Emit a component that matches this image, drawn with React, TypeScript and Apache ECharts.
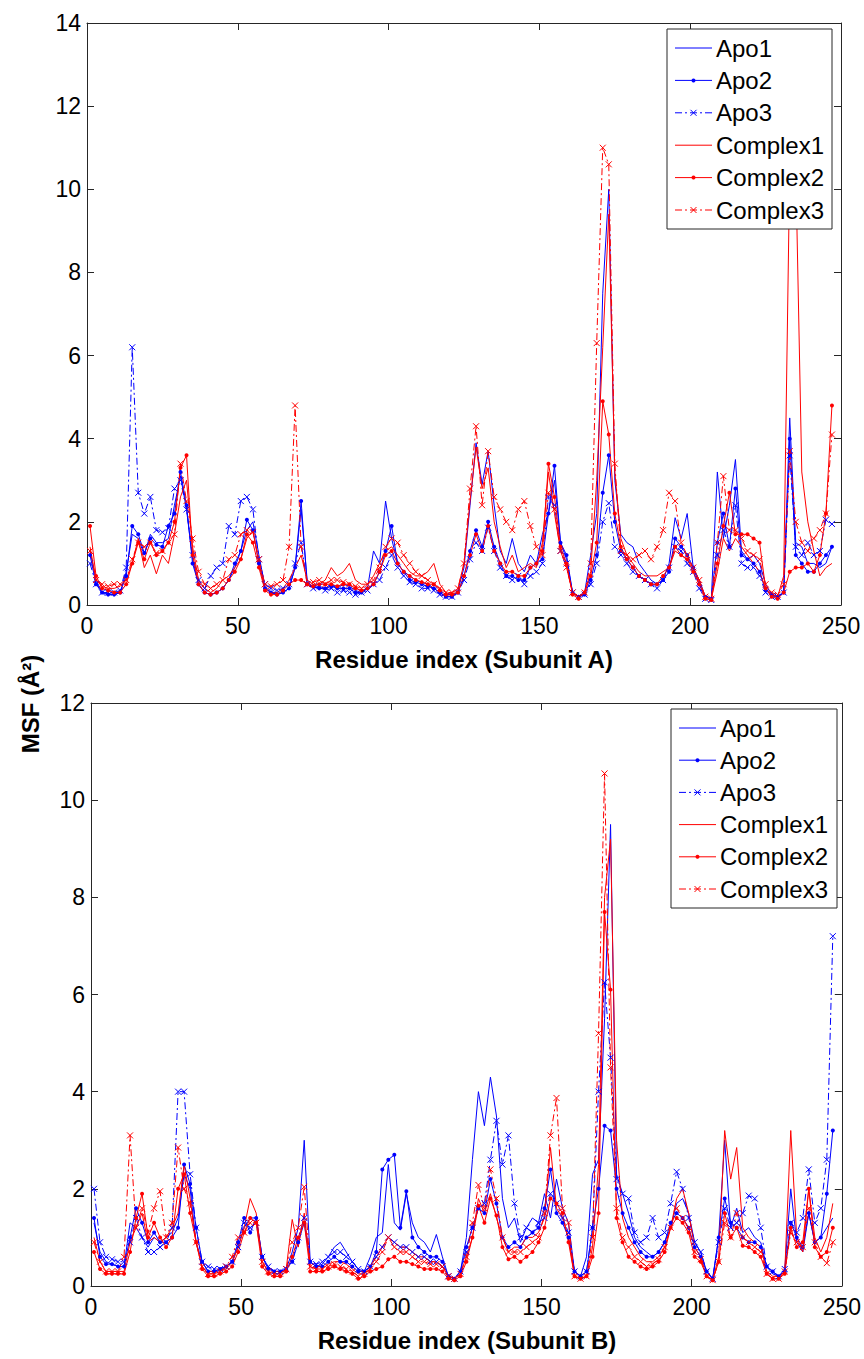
import React, { useEffect, useRef } from 'react';
import * as echarts from 'echarts';

// Residue index sampled every second residue (1, 3, ..., 247)
const RESIDUES: number[] = Array.from({ length: 124 }, (_, i) => 1 + 2 * i);

// ---- Subunit A : mean square fluctuation (Å²) ----
const apo1A = [
  1.3, 0.6, 0.3, 0.28, 0.25, 0.3, 0.8, 1.7, 1.6, 1.2,
  1.7, 1.5, 1.5, 1.6, 2.4, 3.1, 2.3, 1.1, 0.5, 0.3,
  0.25, 0.3, 0.4, 0.6, 0.9, 1.3, 1.8, 2.0, 1.2, 0.45,
  0.3, 0.25, 0.3, 0.4, 0.9, 2.3, 0.6, 0.4, 0.45, 0.4,
  0.5, 0.4, 0.5, 0.45, 0.35, 0.3, 0.4, 1.3, 1.0, 2.5,
  1.6, 1.0, 0.8, 0.7, 0.6, 0.55, 0.5, 0.4, 0.3, 0.2,
  0.2, 0.35, 0.9, 2.4, 3.9, 2.9, 3.7, 2.4, 1.3, 1.0,
  1.6, 1.0, 0.8, 1.2, 1.0, 1.7, 2.2, 3.0, 1.5, 1.1,
  0.3, 0.2, 0.3, 1.2, 2.2, 7.5, 10.0, 3.0, 1.7, 1.5,
  1.4, 1.0, 0.8, 0.6, 0.5, 0.6, 1.0, 2.1, 1.6, 2.2,
  0.9, 0.6, 0.2, 0.15, 3.2, 1.6, 2.4, 3.5, 1.3, 1.1,
  1.2, 1.0, 0.5, 0.25, 0.2, 0.3, 4.5, 1.5, 1.4, 1.0,
  1.0, 0.9, 1.0, 1.4,
];
const apo2A = [
  1.2, 0.5, 0.3, 0.25, 0.25, 0.3, 0.7, 1.9, 1.7, 1.25,
  1.6, 1.45, 1.4, 1.9, 2.2, 3.2, 2.4, 1.0, 0.5, 0.3,
  0.25, 0.3, 0.4, 0.6, 1.0, 1.3, 2.05, 1.8, 1.0, 0.4,
  0.3, 0.25, 0.3, 0.4, 0.9, 2.5, 0.5, 0.45, 0.4, 0.4,
  0.45, 0.4, 0.4, 0.4, 0.3, 0.3, 0.4, 0.5, 0.8, 1.3,
  1.9, 1.0, 0.8, 0.6, 0.55, 0.5, 0.45, 0.4, 0.3, 0.2,
  0.2, 0.3, 0.7, 1.3, 1.8, 1.4, 2.0, 1.4, 1.0, 0.7,
  0.7, 0.6, 0.6, 0.9, 1.0, 1.1, 2.2, 3.35, 1.5, 1.2,
  0.3, 0.2, 0.25, 0.6, 1.2, 2.7, 3.6, 2.0, 1.3, 1.1,
  0.9, 0.7, 0.6, 0.5, 0.5, 0.6, 0.8, 1.6, 1.4, 1.2,
  0.9, 0.5, 0.2, 0.15, 1.5, 2.2, 1.4, 2.8, 1.2, 1.1,
  1.0, 0.8, 0.35, 0.25, 0.2, 0.3, 4.0, 1.2, 1.0, 0.8,
  0.8, 1.0, 1.2, 1.4,
];
const apo3A = [
  1.0, 0.5, 0.3, 0.3, 0.3, 0.35, 0.9, 6.2, 2.7, 2.2,
  2.6, 1.8, 1.75, 1.85, 2.8, 3.0, 2.3, 1.2, 0.6, 0.4,
  0.7, 0.9, 1.0, 1.9, 1.7, 2.5, 2.6, 2.3, 1.1, 0.5,
  0.4, 0.35, 0.4, 0.5, 1.0, 1.5, 0.5, 0.4, 0.45, 0.35,
  0.4, 0.3, 0.35, 0.3, 0.25, 0.3, 0.35, 0.5, 0.6, 0.9,
  1.2, 0.9, 0.7, 0.55, 0.5, 0.4, 0.4, 0.35, 0.25, 0.2,
  0.2, 0.3, 0.6, 1.1, 1.5, 1.3, 1.86, 1.3, 0.9, 0.7,
  0.6, 0.7, 0.5, 0.7, 0.8, 1.0, 2.6, 2.4, 1.3, 1.0,
  0.3, 0.2, 0.25, 0.5, 1.0, 2.0, 2.45, 1.4, 1.2, 1.0,
  0.8, 0.7, 0.6, 0.5, 0.4, 0.6, 0.9, 1.4, 1.3, 1.0,
  0.8, 0.4, 0.15, 0.12, 1.2, 1.8, 1.4, 2.4, 1.0, 0.9,
  0.9, 0.7, 0.3, 0.2, 0.2, 0.3, 3.6, 1.4, 1.2, 1.5,
  1.2, 1.3, 2.05, 1.95,
];
const complex1A = [
  1.4, 0.6, 0.45, 0.4, 0.4, 0.45, 0.6, 1.0, 1.6, 0.9,
  1.2, 0.75, 1.2, 1.0, 1.7, 2.6, 3.0, 1.4, 0.6, 0.4,
  0.3, 0.4, 0.6, 0.7, 0.9, 1.1, 1.6, 1.8, 1.0, 0.4,
  0.3, 0.3, 0.4, 0.6, 0.9, 1.2, 0.6, 0.5, 0.5, 0.6,
  0.9, 0.7, 0.8, 1.0, 0.6, 0.5, 0.5, 0.7, 1.0, 1.3,
  1.4, 1.2, 1.0, 0.8, 0.7, 0.7, 0.8, 1.0, 0.5, 0.3,
  0.25, 0.4, 1.0, 2.5, 3.8, 2.8, 3.3, 2.0, 1.4, 0.9,
  1.2, 0.8, 0.9, 1.0, 0.9, 1.5, 3.2, 2.2, 1.3, 0.9,
  0.3, 0.2, 0.3, 0.8, 3.0, 6.2, 9.4, 3.2, 1.6, 1.2,
  1.0, 0.8, 0.7, 0.7, 0.7, 0.8, 0.9, 1.3, 1.2, 1.1,
  0.9, 0.6, 0.2, 0.15, 0.8, 1.6, 1.3, 1.6, 1.4, 1.2,
  1.0, 0.8, 0.4, 0.25, 0.2, 0.7, 10.5, 10.5, 3.2, 2.0,
  1.3, 0.7, 0.9, 1.0,
];
const complex2A = [
  1.9, 0.7, 0.4, 0.35, 0.3, 0.3, 0.5, 1.0, 1.5, 1.1,
  1.5, 1.2, 1.3, 1.5, 2.0, 3.3, 3.6, 1.2, 0.5, 0.3,
  0.25, 0.3, 0.4, 0.6, 0.8, 1.1, 1.7, 1.5, 0.9, 0.35,
  0.25, 0.25, 0.35, 0.5, 0.6, 0.6, 0.5, 0.45, 0.5, 0.5,
  0.5, 0.45, 0.5, 0.5, 0.4, 0.35, 0.4, 0.5, 0.8, 1.2,
  1.3, 1.0, 0.8, 0.7, 0.6, 0.55, 0.5, 0.5, 0.35, 0.25,
  0.25, 0.3, 0.7, 1.2, 1.7, 1.3, 1.9, 1.3, 1.0, 0.8,
  0.8, 0.7, 0.7, 0.9, 1.0, 1.3, 3.4, 2.6, 1.4, 1.0,
  0.25, 0.15, 0.3, 0.7, 1.5, 4.9, 4.1, 2.2, 1.4, 1.1,
  0.9, 0.7, 0.6, 0.5, 0.5, 0.7, 0.9, 1.4, 1.2, 1.1,
  0.8, 0.5, 0.15, 0.12, 1.0, 1.9, 2.7, 1.7, 1.7, 1.7,
  1.6, 1.5, 0.4, 0.2, 0.15, 0.3, 0.8, 0.9, 0.9, 1.0,
  0.8, 1.2, 2.2, 4.8,
];
const complex3A = [
  1.3, 0.6, 0.5, 0.45, 0.5, 0.5, 0.6, 1.1, 1.5, 1.4,
  1.5, 1.25, 1.3, 1.5, 1.7, 3.4, 2.5, 1.6, 0.8, 0.5,
  0.4, 0.5, 0.6, 1.1, 1.2, 1.7, 1.8, 1.75, 1.1, 0.5,
  0.45, 0.5, 0.6, 1.4, 4.8, 1.4, 0.5, 0.55, 0.6, 0.5,
  0.6, 0.6, 0.55, 0.5, 0.45, 0.4, 0.5, 0.6, 0.9, 1.4,
  1.6, 1.5, 1.2, 1.0, 0.8, 0.7, 0.6, 0.5, 0.4, 0.3,
  0.3, 0.4, 1.0, 2.8, 4.3, 2.4, 3.7, 2.6, 2.3, 2.0,
  1.8, 2.3, 2.5, 1.9, 1.4, 1.2, 2.7, 2.3, 1.3, 0.9,
  0.3, 0.2, 0.3, 1.0, 6.3, 11.0, 10.6, 3.4, 1.3, 1.2,
  1.1, 1.2, 1.3, 1.1, 1.4, 1.8, 2.7, 2.5, 1.5, 1.2,
  0.9, 0.6, 0.2, 0.15, 1.5, 3.1, 1.8, 1.8, 1.6, 1.3,
  1.2, 1.1, 0.5, 0.3, 0.25, 0.5, 3.7, 2.0, 1.5, 1.3,
  1.6, 1.8, 2.2, 4.1,
];

// ---- Subunit B : mean square fluctuation (Å²) ----
const apo1B = [
  1.3, 0.7, 0.5, 0.45, 0.4, 0.4, 1.3, 1.2, 1.0, 0.8,
  1.0, 0.9, 1.0, 1.1, 1.4, 2.3, 2.0, 0.9, 0.5, 0.3,
  0.3, 0.35, 0.4, 0.5, 0.8, 1.2, 1.4, 1.4, 0.6, 0.4,
  0.3, 0.3, 0.35, 0.7, 1.2, 3.0, 0.5, 0.4, 0.45, 0.6,
  0.8, 0.9, 0.7, 0.5, 0.35, 0.3, 0.6, 1.0, 1.1, 2.5,
  1.3, 1.15, 1.9, 1.3, 1.0, 0.9, 0.7, 1.06, 0.6, 0.2,
  0.15, 0.3, 1.0, 2.6, 4.0, 3.3, 4.3, 3.5, 1.8, 1.2,
  1.4, 0.9, 1.2, 1.4, 1.3, 1.9, 1.4, 2.2, 1.6, 1.3,
  0.3, 0.2, 0.6, 2.3, 2.6, 5.5, 9.5, 2.3, 1.9, 1.5,
  1.0, 0.8, 0.7, 0.6, 0.7, 0.9, 1.2, 1.7, 1.8, 1.5,
  0.9, 0.7, 0.3, 0.15, 1.0, 3.0, 1.2, 1.6, 1.1, 1.2,
  1.0, 0.9, 0.4, 0.25, 0.2, 0.35, 2.0, 0.9, 0.7, 1.5,
  0.9, 1.0, 1.2, 1.4,
];
const apo2B = [
  1.4, 0.6, 0.45, 0.45, 0.4, 0.4, 1.0, 1.6, 1.3, 0.9,
  1.1, 0.9, 0.9, 1.0, 1.2, 2.5, 2.1, 1.2, 0.5, 0.3,
  0.3, 0.35, 0.4, 0.5, 0.9, 1.4, 1.1, 1.4, 0.6, 0.35,
  0.3, 0.3, 0.35, 0.5, 0.9, 1.3, 0.5, 0.4, 0.4, 0.5,
  0.6, 0.5, 0.5, 0.4, 0.3, 0.3, 0.4, 0.7, 2.4, 2.6,
  2.7, 1.2, 1.95, 1.0, 0.8, 0.7, 0.6, 0.6, 0.5, 0.2,
  0.15, 0.3, 0.8, 1.2, 1.6, 1.5, 2.2, 1.7, 1.0, 0.8,
  0.9, 0.8, 1.0, 1.1, 1.2, 1.6, 2.4, 1.5, 1.3, 1.0,
  0.3, 0.2, 0.3, 1.2, 2.0, 3.3, 3.2, 2.0, 1.5, 1.2,
  0.9, 0.7, 0.6, 0.6, 0.7, 0.9, 1.3, 1.5, 1.4, 1.2,
  0.8, 0.6, 0.3, 0.15, 1.0, 1.8, 1.3, 1.2, 1.0, 0.9,
  0.9, 0.8, 0.4, 0.3, 0.2, 0.3, 1.3, 1.0, 0.8, 1.5,
  0.9, 1.0, 1.9, 3.2,
];
const apo3B = [
  2.0, 0.9, 0.6, 0.55, 0.5, 0.5, 0.9, 1.4, 1.0, 0.7,
  0.7, 0.8, 0.9, 1.2, 4.0, 4.0, 2.3, 1.2, 0.5, 0.4,
  0.35, 0.35, 0.4, 0.5, 0.8, 1.3, 1.2, 1.3, 0.6, 0.4,
  0.3, 0.3, 0.35, 0.5, 1.0, 1.4, 0.5, 0.45, 0.5, 0.6,
  0.7, 0.7, 0.6, 0.5, 0.35, 0.3, 0.4, 0.6, 0.8, 1.0,
  0.9, 0.8, 0.8, 0.7, 0.6, 0.6, 0.5, 0.5, 0.4, 0.2,
  0.15, 0.3, 0.7, 1.2, 1.6, 1.7, 2.6, 3.4, 2.5, 3.1,
  1.7, 1.0, 1.2, 1.1, 1.3, 1.4, 1.9, 1.7, 1.4, 1.1,
  0.3, 0.2, 0.3, 1.2, 4.0, 6.25, 4.7, 2.2, 1.9, 1.8,
  1.1, 0.9, 1.0, 1.4, 1.0, 1.1, 1.7, 2.35, 2.0, 1.4,
  0.9, 0.7, 0.3, 0.15, 0.9, 1.6, 1.2, 1.3, 1.5, 1.86,
  1.8, 1.2, 0.4, 0.3, 0.2, 0.35, 1.3, 1.1, 1.4, 2.4,
  1.3, 1.6, 2.6, 7.2,
];
const complex1B = [
  1.0, 0.5, 0.3, 0.3, 0.3, 0.3, 0.9, 1.2, 1.5, 0.9,
  1.0, 0.9, 1.0, 1.2, 1.5, 2.5, 1.8, 0.9, 0.4, 0.25,
  0.25, 0.3, 0.35, 0.5, 0.8, 1.2, 1.8, 1.5, 0.5, 0.3,
  0.25, 0.25, 0.35, 1.37, 0.8, 1.5, 0.4, 0.35, 0.35, 0.45,
  0.5, 0.5, 0.45, 0.35, 0.25, 0.25, 0.4, 0.6, 0.8, 1.0,
  0.9, 0.8, 0.8, 0.7, 0.6, 0.6, 0.5, 0.5, 0.4, 0.2,
  0.15, 0.25, 0.6, 1.0, 1.8, 1.5, 1.9, 1.4, 1.0, 0.7,
  0.8, 0.8, 1.0, 1.0, 1.1, 1.4, 2.85, 1.6, 1.4, 1.0,
  0.2, 0.15, 0.2, 0.8, 2.5, 8.0, 9.2, 3.0, 1.4, 1.0,
  0.8, 0.6, 0.5, 0.5, 0.6, 0.8, 1.2, 1.8, 2.0, 1.5,
  0.8, 0.6, 0.2, 0.12, 0.6, 3.2, 2.2, 2.85, 1.2, 1.0,
  0.9, 0.8, 0.3, 0.2, 0.2, 0.3, 3.2, 1.0, 0.7, 2.0,
  1.0, 0.7, 1.0, 1.7,
];
const complex2B = [
  0.7, 0.35, 0.25, 0.25, 0.25, 0.25, 0.7, 1.4, 1.9, 1.0,
  1.3, 1.0, 0.8, 1.0, 2.0, 2.3, 1.5, 0.9, 0.35, 0.2,
  0.2, 0.25, 0.3, 0.4, 0.7, 1.1, 1.4, 1.3, 0.4, 0.25,
  0.2, 0.2, 0.3, 0.6, 1.0, 1.3, 0.3, 0.3, 0.3, 0.35,
  0.4, 0.35, 0.3, 0.25, 0.15, 0.2, 0.3, 0.35, 0.4, 0.55,
  0.6, 0.5, 0.5, 0.45, 0.4, 0.35, 0.35, 0.35, 0.3, 0.15,
  0.12, 0.2, 0.5, 1.0, 1.65, 1.3, 1.8, 1.45, 0.8, 0.55,
  0.6, 0.5, 0.6, 0.7, 0.9, 1.2, 1.8, 1.7, 1.5, 0.9,
  0.2, 0.15, 0.2, 0.6, 1.5, 7.7, 6.1, 1.4, 0.9, 0.6,
  0.5, 0.4, 0.35, 0.4, 0.5, 0.7, 1.2, 1.4, 1.3, 1.1,
  0.6, 0.5, 0.2, 0.12, 0.5, 1.5, 1.0, 1.2, 0.83, 0.8,
  0.7, 0.6, 0.25, 0.15, 0.15, 0.25, 1.2, 0.8, 0.9, 2.0,
  0.8, 0.6, 0.7, 1.2,
];
const complex3B = [
  0.9, 0.5, 0.3, 0.3, 0.3, 0.6, 3.1, 1.2, 1.6, 1.1,
  1.6, 1.95, 1.0, 1.3, 2.85, 2.0, 1.7, 0.9, 0.4, 0.25,
  0.25, 0.3, 0.4, 0.6, 1.0, 1.1, 1.3, 1.3, 0.5, 0.3,
  0.25, 0.25, 0.35, 0.9, 1.2, 2.04, 0.4, 0.35, 0.35, 0.4,
  0.45, 0.4, 0.35, 0.3, 0.2, 0.25, 0.35, 0.5, 0.7, 1.0,
  0.8, 0.7, 0.7, 0.6, 0.5, 0.5, 0.45, 0.45, 0.4, 0.2,
  0.15, 0.25, 0.6, 1.3, 2.08, 1.6, 2.4, 1.8, 1.0, 0.7,
  0.7, 0.7, 0.8, 0.9, 1.0, 1.5, 3.1, 3.87, 1.6, 1.3,
  0.2, 0.15, 0.2, 1.0, 5.2, 10.55, 4.5, 1.6, 1.0, 0.8,
  0.6, 0.5, 0.4, 0.45, 0.55, 0.8, 1.2, 1.6, 1.4, 1.2,
  0.7, 0.55, 0.2, 0.12, 0.5, 1.3, 1.0, 1.5, 1.0, 0.9,
  0.8, 0.7, 0.25, 0.15, 0.15, 0.3, 1.1, 0.9, 0.8, 1.6,
  0.9, 0.6, 0.47, 0.9,
];

const SERIES_NAMES = ['Apo1', 'Apo2', 'Apo3', 'Complex1', 'Complex2', 'Complex3'];
const PANEL_A = [apo1A, apo2A, apo3A, complex1A, complex2A, complex3A];
const PANEL_B = [apo1B, apo2B, apo3B, complex1B, complex2B, complex3B];
const X_TITLES = ['Residue index (Subunit A)', 'Residue index (Subunit B)'];
const Y_MAX = [14, 12];

const FONT = '"Liberation Sans", Arial, Helvetica, sans-serif';
const AXIS_COLOR = '#262626';
const BLUE = '#0000ff';
const RED = '#ff0000';
const DASH_DOT = [7, 3, 2, 3];
const CROSS = 'path://M0,0L10,10M10,0L0,10';

type Kind = 'solid' | 'dot' | 'cross';
const LOOKS: { color: string; kind: Kind }[] = [
  { color: BLUE, kind: 'solid' },
  { color: BLUE, kind: 'dot' },
  { color: BLUE, kind: 'cross' },
  { color: RED, kind: 'solid' },
  { color: RED, kind: 'dot' },
  { color: RED, kind: 'cross' },
];

// plot-area boxes in pixels
const GRIDS = [
  { left: 87, top: 23, width: 754, height: 582 },
  { left: 91, top: 703, width: 752, height: 583 },
];
const LEGENDS = [
  { x: 667, y: 29, w: 165, h: 200 },
  { x: 671, y: 709, w: 166, h: 199 },
];

function lineSeries(panel: number, idx: number, values: number[]) {
  const { color, kind } = LOOKS[idx];
  const base: any = {
    type: 'line',
    name: SERIES_NAMES[idx],
    xAxisIndex: panel * 2,
    yAxisIndex: panel * 2,
    data: values.map((v, i) => [RESIDUES[i], v]),
    silent: true,
    animation: false,
    clip: true,
    emphasis: { disabled: true },
    lineStyle: { color, width: 1, type: kind === 'cross' ? DASH_DOT : 'solid' },
  };
  if (kind === 'solid') return { ...base, symbol: 'none' };
  if (kind === 'dot')
    return { ...base, symbol: 'circle', symbolSize: 4, showAllSymbol: true, itemStyle: { color } };
  return {
    ...base,
    symbol: CROSS,
    symbolSize: 6,
    showAllSymbol: true,
    itemStyle: { color: 'rgba(0,0,0,0)', borderColor: color, borderWidth: 1 },
  };
}

function axisPair(kind: 'x' | 'y', gridIndex: number, max: number, interval: number) {
  const common = {
    gridIndex,
    type: 'value',
    min: 0,
    max,
    interval,
    splitLine: { show: false },
    axisLine: { show: true, onZero: false, lineStyle: { color: AXIS_COLOR, width: 1 } },
    axisTick: { show: true, inside: true, length: 7, lineStyle: { color: AXIS_COLOR, width: 1 } },
  };
  const main = {
    ...common,
    position: kind === 'x' ? 'bottom' : 'left',
    axisLabel: {
      show: true,
      color: '#000',
      fontSize: 23,
      fontFamily: FONT,
      margin: kind === 'x' ? 9 : 6,
    },
  };
  const mirror = {
    ...common,
    position: kind === 'x' ? 'top' : 'right',
    axisLabel: { show: false },
  };
  return [main, mirror];
}

function legendElements(panel: number) {
  const box = LEGENDS[panel];
  const els: any[] = [
    {
      type: 'rect',
      z: 100,
      shape: { x: box.x, y: box.y, width: box.w, height: box.h },
      style: { fill: '#ffffff', stroke: AXIS_COLOR, lineWidth: 1 },
    },
  ];
  const step = (box.h - 38) / 5;
  SERIES_NAMES.forEach((name, i) => {
    const { color, kind } = LOOKS[i];
    const cy = box.y + 19 + i * step;
    const x1 = box.x + 8;
    const x2 = box.x + 45;
    const cx = (x1 + x2) / 2;
    els.push({
      type: 'line',
      z: 101,
      shape: { x1, y1: cy, x2, y2: cy },
      style: { stroke: color, lineWidth: 1, lineDash: kind === 'cross' ? DASH_DOT : null },
    });
    if (kind === 'dot') {
      els.push({ type: 'circle', z: 102, shape: { cx, cy, r: 2 }, style: { fill: color } });
    } else if (kind === 'cross') {
      els.push({
        type: 'line',
        z: 102,
        shape: { x1: cx - 3, y1: cy - 3, x2: cx + 3, y2: cy + 3 },
        style: { stroke: color, lineWidth: 1 },
      });
      els.push({
        type: 'line',
        z: 102,
        shape: { x1: cx - 3, y1: cy + 3, x2: cx + 3, y2: cy - 3 },
        style: { stroke: color, lineWidth: 1 },
      });
    }
    els.push({
      type: 'text',
      z: 102,
      x: box.x + 49,
      y: cy,
      style: {
        text: name,
        fill: '#000',
        font: `24px ${FONT}`,
        align: 'left',
        verticalAlign: 'middle',
      },
    });
  });
  return els;
}

function buildOption() {
  const xAxes: any[] = [];
  const yAxes: any[] = [];
  GRIDS.forEach((_, g) => {
    xAxes.push(...axisPair('x', g, 250, 50));
    yAxes.push(...axisPair('y', g, Y_MAX[g], 2));
  });

  const series: any[] = [];
  PANEL_A.forEach((vals, i) => series.push(lineSeries(0, i, vals)));
  PANEL_B.forEach((vals, i) => series.push(lineSeries(1, i, vals)));

  const titles: any[] = X_TITLES.map((t, g) => ({
    type: 'text',
    z: 50,
    x: GRIDS[g].left + GRIDS[g].width / 2,
    y: GRIDS[g].top + GRIDS[g].height + 54,
    style: {
      text: t,
      fill: '#000',
      font: `bold 24px ${FONT}`,
      align: 'center',
      verticalAlign: 'middle',
    },
  }));
  titles.push({
    type: 'text',
    z: 50,
    x: 30,
    y: 704,
    rotation: Math.PI / 2,
    style: {
      text: 'MSF (Å²)',
      fill: '#000',
      font: `bold 24px ${FONT}`,
      align: 'center',
      verticalAlign: 'middle',
    },
  });

  return {
    animation: false,
    backgroundColor: '#ffffff',
    grid: GRIDS.map((g) => ({ ...g, containLabel: false })),
    xAxis: xAxes,
    yAxis: yAxes,
    series,
    graphic: { elements: [...titles, ...legendElements(0), ...legendElements(1)] },
  };
}

export default function App() {
  const ref = useRef<HTMLDivElement>(null);
  useEffect(() => {
    document.body.style.margin = '0';
    document.body.style.overflow = 'hidden';
    const chart = echarts.init(ref.current as HTMLDivElement, undefined, { renderer: 'svg' });
    chart.setOption(buildOption());
    return () => chart.dispose();
  }, []);
  return <div ref={ref} style={{ width: 864, height: 1359 }} />;
}
